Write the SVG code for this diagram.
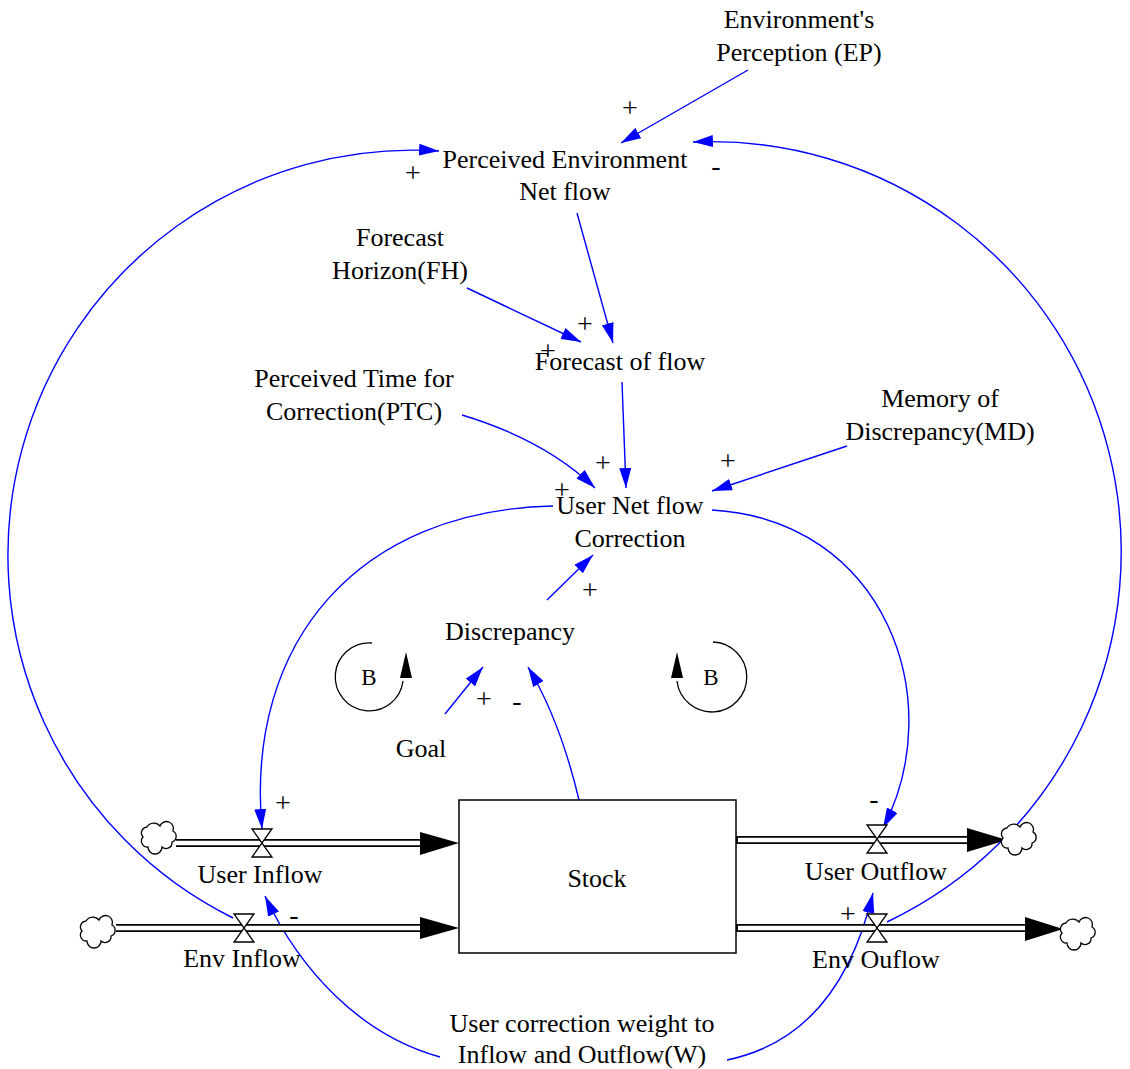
<svg xmlns="http://www.w3.org/2000/svg" width="1130" height="1069" viewBox="0 0 1130 1069">
<defs>
<style>
text{font-family:'Liberation Serif','DejaVu Serif',serif;font-size:26px;fill:#000;text-anchor:middle}
.sign{font-size:28px}
.link{fill:none;stroke:#0000ff;stroke-width:1.4;marker-end:url(#arr)}
.pipeo{stroke:#000;stroke-width:8;fill:none}
.pipei{stroke:#fff;stroke-width:4.5;fill:none}
.valve{fill:#fff;stroke:#000;stroke-width:1.3}
.cloud{fill:#fff;stroke:#000;stroke-width:1.3}
.loop{fill:none;stroke:#000;stroke-width:1.3}
.head{fill:#000}
</style>
<marker id="arr" viewBox="0 0 20 12" refX="20" refY="6" markerWidth="20" markerHeight="12" markerUnits="userSpaceOnUse" orient="auto"><path d="M0,0 L20,6 L0,12 z" fill="#0000ff"/></marker>
<path id="cloudShape" d="M-13,11 a6 6 0 0 1 -5,-10 a6 6 0 0 1 4,-10 a8 8 0 0 1 13,-1 a6 6 0 0 1 13,5 a6 6 0 0 1 -1,11 a6 6 0 0 1 -10,5 a7 7 0 0 1 -14,0 z"/>
<path id="valveShape" d="M-10,-14 L10,-14 L-10,14 L10,14 Z"/>
</defs>
<rect width="1130" height="1069" fill="#fff"/>

<g id="connectors">
<path class="link" d="M748,70 L621,143"/>
<path class="link" d="M233,918 A405 405 0 0 1 439,151"/>
<path class="link" d="M887,922 A410 410 0 0 0 693,142"/>
<path class="link" d="M577,213 L613,343"/>
<path class="link" d="M467,288 L581,342"/>
<path class="link" d="M622,382 L626,488"/>
<path class="link" d="M462,415 Q545,440 595,488"/>
<path class="link" d="M847,446 L712,491"/>
<path class="link" d="M553,506 C360,510 245,640 262,829"/>
<path class="link" d="M712,510 C885,520 950,700 883,828"/>
<path class="link" d="M547,600 L593,555"/>
<path class="link" d="M445,714 L483,667"/>
<path class="link" d="M579,800 Q560,720 528,667"/>
<path class="link" d="M440,1057 C360,1035 300,970 265,896"/>
<path class="link" d="M727,1060 C800,1045 850,990 873,893"/>
</g>

<g id="pipes">
<path class="pipeo" d="M176,843 H421"/><path class="pipei" d="M176,843 H422"/>
<path class="pipeo" d="M116,928 H421"/><path class="pipei" d="M116,928 H422"/>
<path class="pipeo" d="M736,840 H968"/><path class="pipei" d="M738,840 H969"/>
<path class="pipeo" d="M736,928 H1026"/><path class="pipei" d="M738,928 H1027"/>
<polygon class="head" points="420,832 459,843 420,855"/>
<polygon class="head" points="420,917 459,928 420,939"/>
<polygon class="head" points="967,828 1007,840 967,852"/>
<polygon class="head" points="1025,917 1063,929 1025,941"/>
</g>

<g id="clouds">
<use href="#cloudShape" class="cloud" transform="translate(161,836)"/>
<use href="#cloudShape" class="cloud" transform="translate(100,930)"/>
<use href="#cloudShape" class="cloud" transform="translate(1021,837)"/>
<use href="#cloudShape" class="cloud" transform="translate(1080,932)"/>
</g>

<g id="stock"><rect x="459" y="800" width="277" height="153" fill="#fff" stroke="#000" stroke-width="1.5"/><text x="597" y="887">Stock</text></g>

<g id="user-inflow"><use href="#valveShape" class="valve" transform="translate(262,843)"/><text x="260" y="883">User Inflow</text></g>
<g id="env-inflow"><use href="#valveShape" class="valve" transform="translate(244,928)"/><text x="242" y="967">Env Inflow</text></g>
<g id="user-outflow"><use href="#valveShape" class="valve" transform="translate(877,839)"/><text x="876" y="880">User Outflow</text></g>
<g id="env-outflow"><use href="#valveShape" class="valve" transform="translate(877,928)"/><text x="876" y="968">Env Ouflow</text></g>

<g id="ep"><text x="799" y="28">Environment's</text><text x="799" y="61">Perception (EP)</text></g>
<g id="pen"><text x="565" y="168">Perceived Environment</text><text x="565" y="200">Net flow</text></g>
<g id="fh"><text x="400" y="246">Forecast</text><text x="400" y="279">Horizon(FH)</text></g>
<g id="ff"><text x="620" y="370">Forecast of flow</text></g>
<g id="ptc"><text x="354" y="387">Perceived Time for</text><text x="354" y="420">Correction(PTC)</text></g>
<g id="md"><text x="940" y="407">Memory of</text><text x="940" y="440">Discrepancy(MD)</text></g>
<g id="unfc"><text x="630" y="514">User Net flow</text><text x="630" y="547">Correction</text></g>
<g id="discrepancy"><text x="510" y="640">Discrepancy</text></g>
<g id="goal"><text x="421" y="757">Goal</text></g>
<g id="w"><text x="582" y="1032">User correction weight to</text><text x="582" y="1063">Inflow and Outflow(W)</text></g>

<g id="loop-left">
<path class="loop" d="M372,643 A34 34 0 1 0 403,681"/>
<polygon class="head" points="406,652 400,678 412,678"/>
<text x="369" y="685" style="font-size:23px">B</text>
</g>
<g id="loop-right">
<path class="loop" d="M713,642 A35 35 0 1 1 677,681"/>
<polygon class="head" points="677,652 671,678 683,678"/>
<text x="711" y="685" style="font-size:23px">B</text>
</g>

<g id="signs">
<text class="sign" x="630" y="117">+</text>
<text class="sign" x="413" y="182">+</text>
<text class="sign" x="716" y="175">-</text>
<text class="sign" x="585" y="333">+</text>
<text class="sign" x="548" y="360">+</text>
<text class="sign" x="603" y="472">+</text>
<text class="sign" x="562" y="499">+</text>
<text class="sign" x="728" y="470">+</text>
<text class="sign" x="590" y="599">+</text>
<text class="sign" x="484" y="708">+</text>
<text class="sign" x="517" y="710">-</text>
<text class="sign" x="283" y="812">+</text>
<text class="sign" x="294" y="924">-</text>
<text class="sign" x="874" y="808">-</text>
<text class="sign" x="848" y="923">+</text>
</g>
</svg>
